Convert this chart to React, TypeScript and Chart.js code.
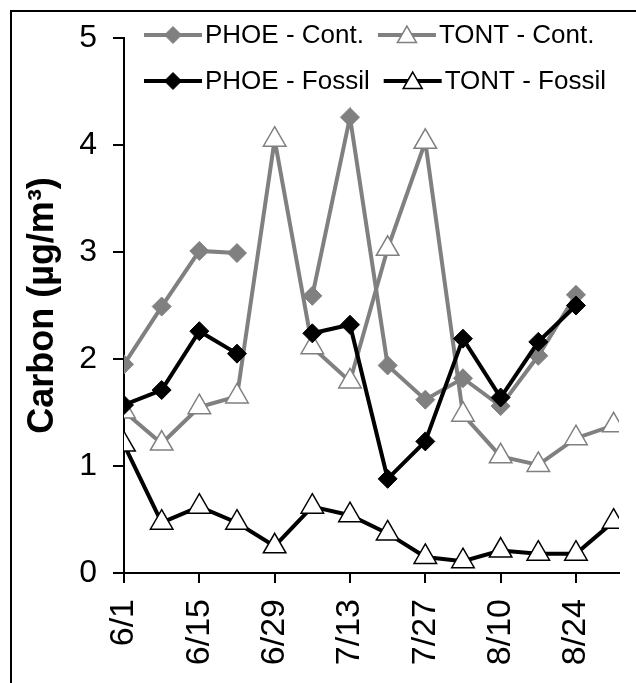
import React, { useEffect, useRef } from 'react';
import { Chart, registerables } from 'chart.js';
import { drawPoint } from 'chart.js/helpers';

Chart.register(...registerables);

// Weekly sampling dates (month/day)
const sampleDates = ['6/1', '6/8', '6/15', '6/22', '6/29', '7/6', '7/13', '7/20', '7/27', '8/3', '8/10', '8/17', '8/24', '8/31'];
// Labelled ticks on the date axis, and where the axis ends
const tickDates = ['6/1', '6/15', '6/29', '7/13', '7/27', '8/10', '8/24'];
const axisStart = '6/1';
const axisEnd = '9/1';
const yTicks = [0, 1, 2, 3, 4, 5];

// Carbon concentrations, µg/m³ (null = no sample)
const phoeCont = [1.95, 2.49, 3.01, 2.99, null, 2.59, 4.26, 1.94, 1.62, 1.82, 1.56, 2.03, 2.60, null];
const tontCont = [1.51, 1.21, 1.55, 1.65, 4.05, 2.11, 1.79, 3.03, 4.03, 1.48, 1.09, 1.01, 1.26, 1.38];
const phoeFossil = [1.57, 1.71, 2.26, 2.05, null, 2.24, 2.32, 0.88, 1.23, 2.19, 1.64, 2.16, 2.50, null];
const tontFossil = [1.20, 0.47, 0.62, 0.47, 0.25, 0.62, 0.54, 0.37, 0.15, 0.11, 0.21, 0.18, 0.18, 0.48];

const GRAY = '#808080';
const BLACK = '#000000';
const FONT = '"Liberation Sans", Arial, Helvetica, sans-serif';

const monthOffset: Record<number, number> = { 6: 0, 7: 30, 8: 61, 9: 92 };
function dayIndex(label: string): number {
  const [m, d] = label.split('/').map(Number);
  return monthOffset[m] + d - 1;
}
function labelForDay(day: number): string {
  const hit = tickDates.find((t) => dayIndex(t) === day);
  return hit ?? '';
}
function toPoints(values: (number | null)[]) {
  return values.map((v, i) => ({ x: dayIndex(sampleDates[i]), y: v }));
}

// Two-row legend drawn across the top of the plot
const cornerLegend = {
  id: 'cornerLegend',
  afterDraw(chart: any) {
    const ctx = chart.ctx as CanvasRenderingContext2D;
    const sets = chart.data.datasets as any[];
    const startX = 144;
    const rowY = [35, 81];
    const lineLen = 58;
    const textGap = 3;
    const itemGap = 14;
    ctx.save();
    ctx.font = `26px ${FONT}`;
    ctx.textBaseline = 'middle';
    ctx.textAlign = 'left';
    let x = startX;
    sets.forEach((ds, i) => {
      if (i % 2 === 0) x = startX;
      const y = rowY[Math.floor(i / 2)];
      ctx.strokeStyle = ds.borderColor;
      ctx.lineWidth = ds.borderWidth;
      ctx.lineCap = 'butt';
      ctx.beginPath();
      ctx.moveTo(x, y);
      ctx.lineTo(x + lineLen, y);
      ctx.stroke();
      ctx.fillStyle = ds.pointBackgroundColor;
      ctx.strokeStyle = ds.pointBorderColor;
      ctx.lineWidth = ds.pointBorderWidth;
      const isTri = ds.pointStyle === 'triangle';
      drawPoint(ctx, {
        pointStyle: ds.pointStyle,
        radius: isTri ? 11 : 8.5,
        rotation: 0,
        borderWidth: ds.pointBorderWidth,
      } as any, x + lineLen / 2, isTri ? y + 2 : y);
      ctx.fillStyle = BLACK;
      const tx = x + lineLen + textGap;
      ctx.fillText(ds.label, tx, y + 1);
      x = tx + ctx.measureText(ds.label).width + itemGap;
    });
    ctx.restore();
  },
};

export default function App() {
  const canvasRef = useRef<HTMLCanvasElement | null>(null);

  useEffect(() => {
    const canvas = canvasRef.current;
    if (!canvas) return;

    const diamond = (color: string, order: number, label: string, values: (number | null)[]) => ({
      label,
      data: toPoints(values),
      borderColor: color,
      borderWidth: 4,
      pointStyle: 'rectRot',
      pointRadius: 9.5,
      pointBackgroundColor: color,
      pointBorderColor: color,
      pointBorderWidth: 1,
      spanGaps: false,
      tension: 0,
      order,
    });
    const triangle = (color: string, order: number, label: string, values: (number | null)[]) => ({
      label,
      data: toPoints(values),
      borderColor: color,
      borderWidth: 4,
      pointStyle: 'triangle',
      pointRadius: 13,
      pointBackgroundColor: '#ffffff',
      pointBorderColor: color,
      pointBorderWidth: 1.5,
      spanGaps: false,
      tension: 0,
      order,
    });

    const chart = new Chart(canvas, {
      type: 'line',
      data: {
        datasets: [
          diamond(GRAY, 4, 'PHOE - Cont.', phoeCont),
          triangle(GRAY, 3, 'TONT - Cont.', tontCont),
          diamond(BLACK, 2, 'PHOE - Fossil', phoeFossil),
          triangle(BLACK, 1, 'TONT - Fossil', tontFossil),
        ] as any,
      },
      options: {
        responsive: false,
        animation: false,
        events: [],
        layout: { padding: { left: 0, top: 38, right: 17, bottom: 0 } },
        plugins: {
          legend: { display: false },
          tooltip: { enabled: false },
        },
        scales: {
          x: {
            type: 'linear',
            min: dayIndex(axisStart),
            max: dayIndex(axisEnd),
            afterBuildTicks: (scale: any) => {
              scale.ticks = tickDates.map((t) => ({ value: dayIndex(t) }));
            },
            afterFit: (scale: any) => {
              scale.height = 110;
            },
            grid: {
              drawOnChartArea: false,
              drawTicks: true,
              tickLength: 10,
              color: BLACK,
              lineWidth: 2,
            },
            border: { display: true, color: BLACK, width: 2 },
            ticks: {
              minRotation: 90,
              maxRotation: 90,
              autoSkip: false,
              padding: 16,
              color: BLACK,
              font: { family: FONT, size: 34 },
              callback: (v: any) => labelForDay(Number(v)),
            },
          },
          y: {
            type: 'linear',
            min: yTicks[0],
            max: yTicks[yTicks.length - 1],
            afterBuildTicks: (scale: any) => {
              scale.ticks = yTicks.map((v) => ({ value: v }));
            },
            afterFit: (scale: any) => {
              scale.width = 124;
            },
            grid: {
              drawOnChartArea: false,
              drawTicks: true,
              tickLength: 11,
              color: BLACK,
              lineWidth: 2,
            },
            border: { display: true, color: BLACK, width: 2 },
            ticks: {
              padding: 16,
              color: BLACK,
              font: { family: FONT, size: 32 },
              callback: (v: any) => String(v),
            },
            title: {
              display: true,
              text: 'Carbon (µg/m³)',
              color: BLACK,
              font: { family: FONT, size: 36, weight: 'bold', lineHeight: 1.2 },
              padding: { top: 21, bottom: 0 },
            },
          },
        },
      },
      plugins: [cornerLegend],
    });

    return () => chart.destroy();
  }, []);

  return (
    <div
      style={{
        position: 'fixed',
        left: 0,
        top: 0,
        width: 636,
        height: 683,
        overflow: 'hidden',
        background: '#ffffff',
      }}
    >
      <div
        style={{
          position: 'absolute',
          left: 10,
          top: 10,
          width: 660,
          height: 720,
          border: '2px solid #000000',
        }}
      />
      <canvas
        ref={canvasRef}
        width={636}
        height={683}
        style={{ position: 'absolute', left: 0, top: 0, width: 636, height: 683 }}
      />
    </div>
  );
}
